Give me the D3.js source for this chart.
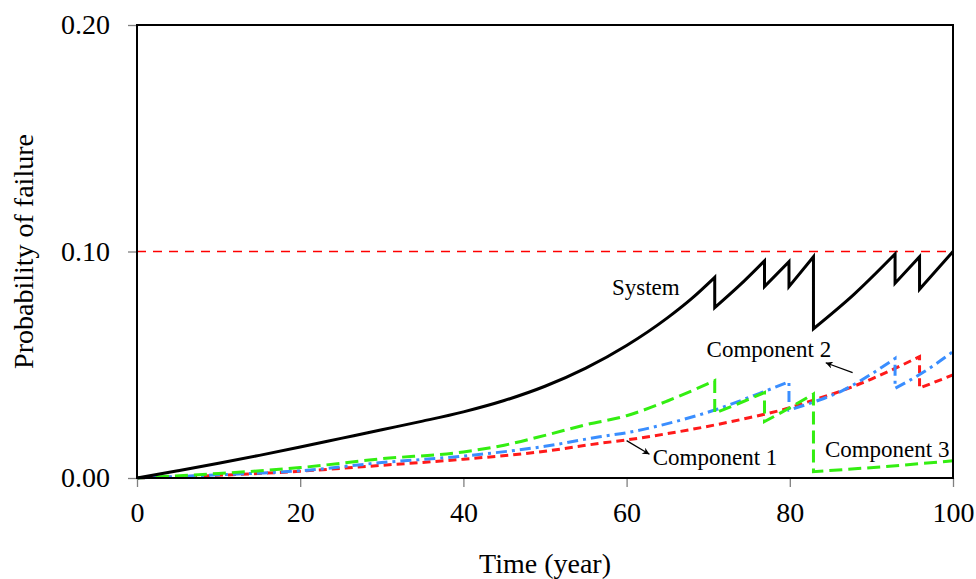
<!DOCTYPE html>
<html>
<head>
<meta charset="utf-8">
<script src="https://cdn.jsdelivr.net/npm/d3@7/dist/d3.min.js"></script>
<style>
  html, body { margin: 0; padding: 0; background: #fff; }
  svg { display: block; }
  text { font-family: "Liberation Serif", "Times New Roman", serif; fill: #000; }
</style>
</head>
<body>
<svg id="chart" width="976" height="579"></svg>
<script>
// ---- Data ----
const xTicks = [0, 20, 40, 60, 80, 100];
const yTicks = [0, 0.10, 0.20];
const threshold = 0.10;

// System probability of failure (vertical drops at maintenance times)
const systemT = [0, 5, 10, 15, 20, 25, 30, 35, 40, 45, 50, 55, 60, 65, 68, 70.8,
                 70.8, 73.8, 76.9, 76.9, 79.9, 79.9, 82.9, 82.9, 87.9, 92.9, 92.9, 95.9, 95.9, 100];
const systemP = [0, 0.0032, 0.0065, 0.0100, 0.0137, 0.0175, 0.0213, 0.0251, 0.0292, 0.0342, 0.0405, 0.0485, 0.0585, 0.0707, 0.0793, 0.0886,
                 0.0752, 0.0849, 0.0959, 0.0845, 0.0955, 0.0845, 0.0977, 0.0659, 0.0812, 0.0989, 0.0860, 0.0977, 0.0833, 0.1000];

// Component 1 (red)
const comp1T = [0, 10, 20, 30, 40, 50, 56.7, 60, 65, 70.8, 75, 80, 82.9, 85, 90, 92.9, 95.9, 95.9, 100];
const comp1P = [0, 0.0012, 0.0030, 0.0056, 0.0083, 0.0118, 0.0153, 0.0168, 0.0196, 0.0234, 0.0266, 0.0310, 0.0344, 0.0368, 0.0437, 0.0484, 0.0536, 0.0397, 0.0455];

// Component 2 (blue)
const comp2T = [0, 10, 20, 30, 40, 50, 56.7, 60, 65, 70.8, 76.3, 79.9, 79.9, 82.9, 86.4, 89.6, 92.9, 92.9, 96.5, 100];
const comp2P = [0, 0.0014, 0.0032, 0.0068, 0.0097, 0.0140, 0.0182, 0.0200, 0.0240, 0.0300, 0.0374, 0.0425, 0.0300, 0.0335, 0.0385, 0.0450, 0.0528, 0.0396, 0.0470, 0.0558];

// Component 3 (green)
const comp3T = [0, 10, 20, 30, 40, 45, 50, 55, 60, 65, 70.8, 70.8, 73.8, 76.9, 76.9, 79.9, 82.9, 82.9, 91.5, 100];
const comp3P = [0, 0.0020, 0.0046, 0.0085, 0.0115, 0.0145, 0.0188, 0.0235, 0.0275, 0.0340, 0.0430, 0.0286, 0.0330, 0.0377, 0.0249, 0.0308, 0.0371, 0.0028, 0.0050, 0.0076];

// Annotations (data coordinates)
const labelNames = ["System", "Component 2", "Component 1", "Component 3"];
const labelT = [58.2, 69.8, 63.2, 84.3];
const labelP = [0.0808, 0.0534, 0.0057, 0.0093];
// arrows: [fromT, fromP, toT, toP]
const arrows = [[87.7, 0.0465, 84.4, 0.0509], [60.0, 0.0165, 62.8, 0.0105]];

// ---- Layout ----
const W = 976, H = 579;
const margin = { left: 137, top: 25, right: 23, bottom: 101 };
const svg = d3.select("#chart");
const x = d3.scaleLinear().domain([0, 100]).range([margin.left, W - margin.right]);
const y = d3.scaleLinear().domain([0, 0.20]).range([H - margin.bottom, margin.top]);

const defs = svg.append("defs");
defs.append("marker")
  .attr("id", "arrow").attr("viewBox", "0 0 10 10")
  .attr("refX", 10).attr("refY", 5)
  .attr("markerWidth", 10).attr("markerHeight", 7)
  .attr("markerUnits", "userSpaceOnUse")
  .attr("orient", "auto")
  .append("path").attr("d", "M0,0 L10,5 L0,10 L3,5 Z").attr("fill", "#000");

// threshold
svg.append("line")
  .attr("x1", x(0)).attr("x2", x(100))
  .attr("y1", y(threshold)).attr("y2", y(threshold))
  .style("stroke", "rgb(255,0,0)").style("stroke-width", "1.7px")
  .style("stroke-dasharray", "9,7");

// smooth segments between drops, joined by vertical steps in one path
const curveLine = d3.line().x(d => x(d[0])).y(d => y(d[1])).curve(d3.curveMonotoneX);
function seriesPath(T, P) {
  const segs = [];
  let cur = [];
  T.forEach((t, i) => {
    if (i > 0 && t === T[i - 1]) { segs.push(cur); cur = []; }
    cur.push([t, P[i]]);
  });
  segs.push(cur);
  return segs.map((s, k) => {
    const d = curveLine(s);
    return k === 0 ? d : "L" + d.slice(1);
  }).join("");
}

const series = [
  { T: comp1T, P: comp1P, color: "#ff1a1a", dash: "8,5", w: 3 },
  { T: comp2T, P: comp2P, color: "#3a8eff", dash: "11,5,3,5", w: 3 },
  { T: comp3T, P: comp3P, color: "#33ee11", dash: "13,6", w: 3 },
  { T: systemT, P: systemP, color: "#000", dash: null, w: 3 }
];
series.forEach(s => {
  svg.append("path")
    .attr("d", seriesPath(s.T, s.P))
    .attr("fill", "none")
    .attr("stroke", s.color)
    .attr("stroke-width", s.w)
    .attr("stroke-linejoin", "miter")
    .attr("stroke-dasharray", s.dash);
});

// axes
const xAxis = svg.append("g").attr("transform", `translate(0,${y(0)})`)
  .call(d3.axisBottom(x).tickValues(xTicks).tickSize(9).tickPadding(15).tickFormat(d3.format("d")));
const yAxis = svg.append("g").attr("transform", `translate(${x(0)},0)`)
  .call(d3.axisLeft(y).tickValues(yTicks).tickSize(9).tickPadding(18).tickFormat(d3.format(".2f")));
[xAxis, yAxis].forEach(g => {
  g.select(".domain").remove();
  g.selectAll(".tick line").attr("stroke", "#808080").attr("stroke-width", 1.3);
  g.selectAll(".tick text").attr("font-family", "Liberation Serif").attr("font-size", 28).attr("fill", "#000");
});

// frame
svg.append("rect")
  .attr("x", x(0)).attr("y", y(0.20))
  .attr("width", x(100) - x(0)).attr("height", y(0) - y(0.20))
  .attr("fill", "none").attr("stroke", "#000").attr("stroke-width", 2);

// axis titles
svg.append("text")
  .attr("x", (x(0) + x(100)) / 2).attr("y", 573)
  .attr("text-anchor", "middle").attr("font-size", 28)
  .text("Time (year)");
svg.append("text")
  .attr("transform", `translate(33,${(y(0) + y(0.2)) / 2}) rotate(-90)`)
  .attr("text-anchor", "middle").attr("font-size", 28)
  .text("Probability of failure");

// annotations
labelNames.forEach((n, i) => {
  svg.append("text")
    .attr("x", x(labelT[i])).attr("y", y(labelP[i]))
    .attr("font-size", 23)
    .text(n);
});
arrows.forEach(a => {
  svg.append("line")
    .attr("x1", x(a[0])).attr("y1", y(a[1]))
    .attr("x2", x(a[2])).attr("y2", y(a[3]))
    .attr("stroke", "#000").attr("stroke-width", 1.2)
    .attr("marker-end", "url(#arrow)");
});
</script>
</body>
</html>
